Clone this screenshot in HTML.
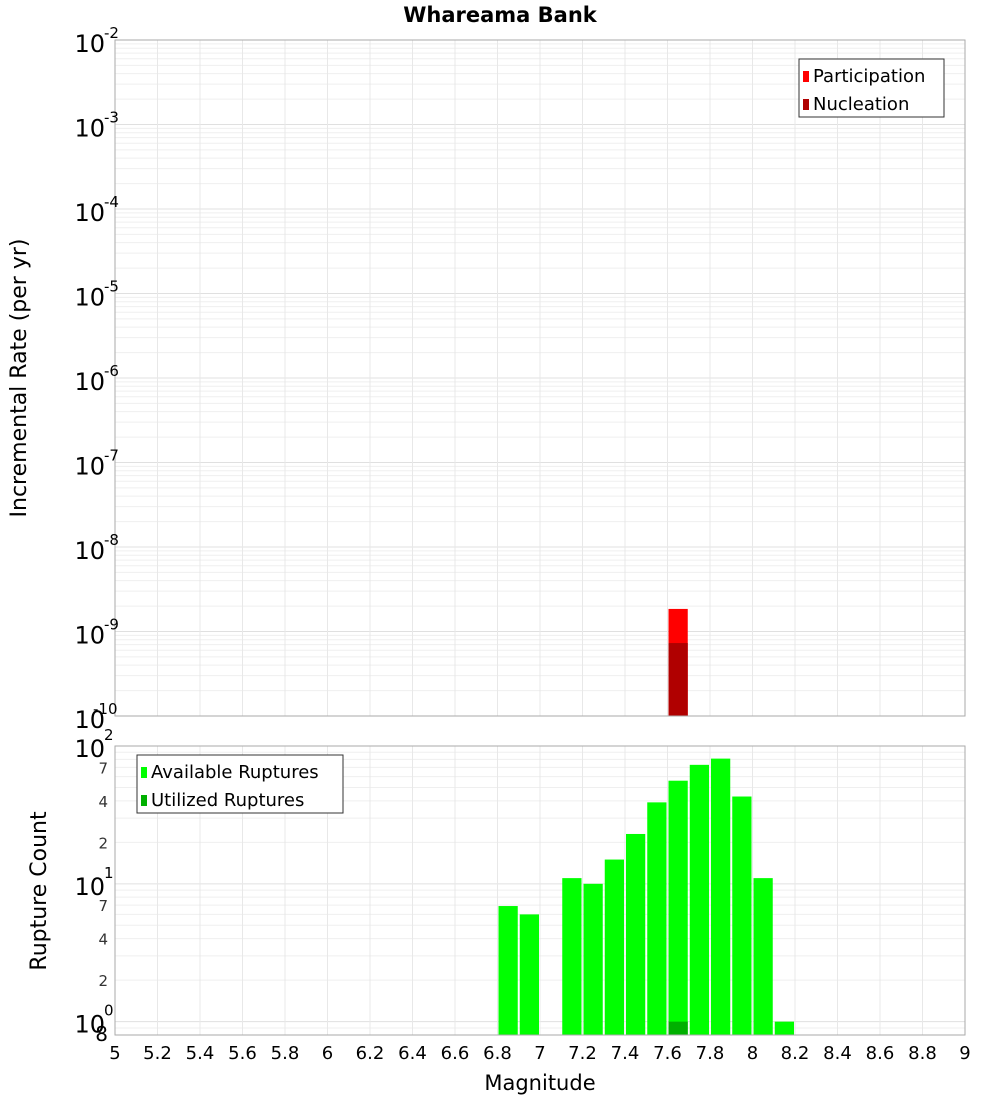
<!DOCTYPE html>
<html><head><meta charset="utf-8"><style>
body{margin:0;background:#fff;font-family:"Liberation Sans","DejaVu Sans",sans-serif}
svg text{font-family:"DejaVu Sans","Liberation Sans",sans-serif}
</style></head><body>
<svg id="c" width="1000" height="1100" xmlns="http://www.w3.org/2000/svg"></svg>
<script>
const rateBins=[7.6];
const participation=[1.85e-9];
const nucleation=[7.3e-10];
const countBins=[6.8,6.9,7.1,7.2,7.3,7.4,7.5,7.6,7.7,7.8,7.9,8.0,8.1];
const available=[6.9,6,11,10,15,23,39,56,73,81,43,11,1];
const utilBins=[7.6];
const utilized=[1];
const xTicks=["5","5.2","5.4","5.6","5.8","6","6.2","6.4","6.6","6.8","7","7.2","7.4","7.6","7.8","8","8.2","8.4","8.6","8.8","9"];

const NS="http://www.w3.org/2000/svg", svg=document.getElementById('c');
function el(t,a,p){const e=document.createElementNS(NS,t);for(const k in a)e.setAttribute(k,a[k]);(p||svg).appendChild(e);return e;}
const L=115,R=965,T1=40,B1=716,T2=746,B2=1035;
const X=v=>L+(v-5)/4*(R-L);
const Y1=v=>B1-(Math.log10(v)+10)/8*(B1-T1);
const lmin2=Math.log10(0.8),lmax2=2;
const Y2=v=>B2-(Math.log10(v)-lmin2)/(lmax2-lmin2)*(B2-T2);

// grids
function vgrid(t,b){for(let i=0;i<=20;i++){el('line',{x1:X(5+i*0.2),x2:X(5+i*0.2),y1:t,y2:b,stroke:'#e8e8e8','stroke-width':1});}}
const g1=el('g',{});
for(let d=-10;d<-2;d++)for(let m=1;m<10;m++){const y=Y1(m*Math.pow(10,d));el('line',{x1:L,x2:R,y1:y,y2:y,stroke:m==1?'#e0e0e0':'#efefef'},g1);}
vgrid(T1,B1);
for(let d=-1;d<2;d++)for(let m=1;m<10;m++){const v=m*Math.pow(10,d);if(v<0.8)continue;const y=Y2(v);el('line',{x1:L,x2:R,y1:y,y2:y,stroke:m==1?'#e0e0e0':'#efefef'});}
vgrid(T2,B2);

// top bars
rateBins.forEach((b,i)=>{
 let r=el('rect',{x:X(b)+1,y:Y1(participation[i]),width:X(b+0.1)-X(b)-2,height:B1-Y1(participation[i]),fill:'#ff0000'});
 
 r=el('rect',{x:X(b)+1,y:Y1(nucleation[i]),width:X(b+0.1)-X(b)-2,height:B1-Y1(nucleation[i]),fill:'#b00000'});
 
});
countBins.forEach((b,i)=>{
 const r=el('rect',{x:X(b)+1,y:Y2(available[i]),width:X(b+0.1)-X(b)-2,height:B2-Y2(available[i]),fill:'#00ff00'});
 
});
utilBins.forEach((b,i)=>{
 const r=el('rect',{x:X(b)+1,y:Y2(utilized[i]),width:X(b+0.1)-X(b)-2,height:B2-Y2(utilized[i]),fill:'#00b000'});
 
});
// frames
el('rect',{x:L,y:T1,width:R-L,height:B1-T1,fill:'none',stroke:'#aaa'});
el('rect',{x:L,y:T2,width:R-L,height:B2-T2,fill:'none',stroke:'#aaa'});

// top y labels
for(let d=-10;d<=-2;d++){const y=Y1(Math.pow(10,d));
 const t=el('text',{x:105,y:y+12,'text-anchor':'end','font-size':24});t.textContent='10';
 const s=el('text',{x:105,y:y-2,'font-size':15});s.textContent=String(d);s.setAttribute('x',d==-10?93:104);
}
// bottom y labels
[[100,'2'],[10,'1'],[1,'0']].forEach(([v,e])=>{const y=Y2(v);
 const t=el('text',{x:105,y:y+11,'text-anchor':'end','font-size':24});t.textContent='10';
 const s=el('text',{x:104,y:y-6,'font-size':15});s.textContent=e;});
[70,40,20,7,4,2,0.8].forEach(v=>{const y=Y2(v);const t=el('text',{x:v==0.8?108:108,y:y+6,'text-anchor':'end','font-size':v==0.8?20:15,fill:v==0.8?'#000':'#333'});t.textContent=v==0.8?'8':String(v).replace(/0$/,'');});
// x ticks
xTicks.forEach(s=>{const t=el('text',{x:X(parseFloat(s)),y:1059,'text-anchor':'middle','font-size':18});t.textContent=s;});

// titles
let t=el('text',{x:500,y:22,'text-anchor':'middle','font-size':21,'font-weight':'bold'});t.textContent='Whareama Bank';

t=el('text',{x:540,y:1090,'text-anchor':'middle','font-size':21});t.textContent='Magnitude';

t=el('text',{x:0,y:0,'text-anchor':'middle','font-size':22,transform:'translate(26,378) rotate(-90)'});t.textContent='Incremental Rate (per yr)';

t=el('text',{x:0,y:0,'text-anchor':'middle','font-size':22,transform:'translate(46,891) rotate(-90)'});t.textContent='Rupture Count';


// legends
function legend(x,y,w,items,name){const g=el('g',{});
 el('rect',{x:x,y:y,width:w,height:58,fill:'#fff',stroke:'#333'},g);
 items.forEach(([c,l],i)=>{el('rect',{x:x+4,y:y+12+i*28,width:6,height:11,fill:c},g);
  const tt=el('text',{x:x+14,y:y+23+i*28,'font-size':18},g);tt.textContent=l;});}
legend(799,59,145,[['#ff0000','Participation'],['#b00000','Nucleation']],'top-legend');
legend(137,755,206,[['#00ff00','Available Ruptures'],['#00b000','Utilized Ruptures']],'bottom-legend');
</script>
</body></html>
